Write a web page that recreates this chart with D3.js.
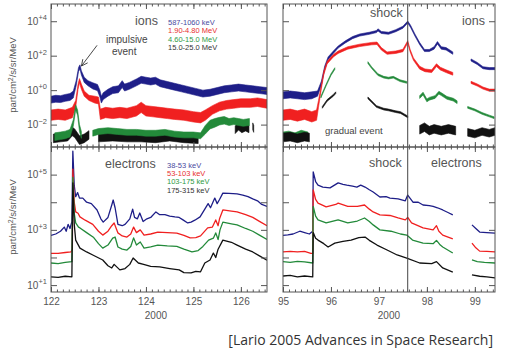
<!DOCTYPE html>
<html><head><meta charset="utf-8">
<script src="https://cdn.jsdelivr.net/npm/d3@7"></script>
<style>
body{margin:0;background:#fff}
svg{display:block}
</style>
</head><body>
<svg id="c" width="508" height="348" font-family="Liberation Sans, Arial, Helvetica, sans-serif"></svg>
<script>
// ---------- tick labels / categories ----------
const leftDayTicks = [122,123,124,125,126];
const rightDayTicks = [95,96,97,98,99];
const ionExpLabels = [4,2,0,-2];
const ionExpTicks = [4,2,0,-2];
const elecExpLabels = [5,3,1];
const elecExpTicks = [5,4,3,2,1];
const ionLegend = ["587-1060 keV","1.90-4.80 MeV","4.60-15.0 MeV","15.0-25.0 MeV"];
const elecLegend = ["38-53 keV","53-103 keV","103-175 keV","175-315 keV"];
const shockDay = 97.6;
const impulsivePeak = [122.62, 1.4];

// ---------- data: [day of 2000, log10 flux, noise half-width in decades] ----------
const ionsL_587 = [[122.00,-0.55,.2],[122.10,-0.50,.2],[122.20,-0.52,.2],[122.30,-0.45,.2],[122.40,-0.40,.2],[122.47,-0.25,.2],[122.53,0.40,.15],[122.58,1.20,.12],[122.61,1.35,.12],[122.64,1.00,.12],[122.70,0.60,.15],[122.78,0.40,.15],[122.88,0.25,.18],[122.98,0.15,.18],[123.03,-0.20,.2],[123.06,-0.55,.2],[123.10,-0.35,.2],[123.20,-0.15,.2],[123.30,0.00,.2],[123.42,0.05,.2],[123.50,0.35,.2],[123.55,0.15,.2],[123.65,0.25,.2],[123.80,0.45,.2],[123.90,0.60,.2],[124.00,0.55,.2],[124.10,0.50,.2],[124.20,0.55,.2],[124.30,0.40,.2],[124.45,0.30,.2],[124.60,0.20,.2],[124.75,0.10,.2],[124.90,0.00,.2],[125.05,-0.10,.2],[125.20,-0.20,.2],[125.35,-0.15,.2],[125.50,-0.05,.2],[125.65,0.05,.2],[125.80,0.10,.2],[125.95,0.15,.2],[126.10,0.10,.2],[126.25,0.05,.2],[126.40,0.00,.2],[126.55,-0.05,.2]];
const ionsL_190 = [[122.00,-1.45,.3],[122.15,-1.40,.3],[122.30,-1.45,.3],[122.45,-1.30,.3],[122.52,-0.80,.2],[122.57,0.20,.15],[122.60,0.55,.12],[122.64,0.20,.15],[122.70,-0.20,.15],[122.80,-0.45,.15],[122.92,-0.55,.2],[123.00,-0.60,.2],[123.04,-1.40,.3],[123.15,-1.30,.3],[123.30,-1.35,.3],[123.45,-1.30,.3],[123.60,-1.35,.3],[123.80,-1.20,.3],[123.90,-1.00,.3],[124.00,-1.20,.3],[124.15,-1.25,.3],[124.30,-1.30,.3],[124.45,-1.35,.3],[124.60,-1.40,.3],[124.80,-1.45,.3],[125.00,-1.55,.3],[125.15,-1.60,.3],[125.25,-1.45,.3],[125.40,-1.15,.25],[125.55,-0.95,.25],[125.70,-0.85,.25],[125.85,-0.80,.25],[126.00,-0.75,.25],[126.20,-0.75,.25],[126.35,-0.70,.25],[126.55,-0.80,.25]];
const ionsL_460 = [[122.08,-2.70,.22],[122.20,-2.65,.22],[122.30,-2.60,.22],[122.40,-2.50,.22],[122.47,-1.90,.18],[122.52,-1.00,.15],[122.56,-1.30,.15],[122.60,-2.20,.2],[122.64,-2.60,.2],null,[122.88,-2.50,.17],[123.00,-2.40,.17],[123.20,-2.35,.17],[123.40,-2.40,.17],[123.60,-2.45,.17],[123.80,-2.45,.17],[124.00,-2.50,.17],[124.20,-2.50,.17],[124.40,-2.45,.17],[124.60,-2.55,.17],[124.80,-2.60,.17],[125.00,-2.60,.17],[125.15,-2.65,.17],[125.25,-2.30,.25],[125.35,-2.00,.25],[125.45,-1.90,.25],[125.55,-1.80,.22],[125.65,-1.75,.22],[125.75,-1.85,.2],[125.85,-1.80,.2],[125.95,-1.85,.2],[126.05,-1.90,.2],[126.18,-1.85,.2]];
const ionsL_150 = [[122.05,-2.80,.25],[122.20,-2.75,.25],[122.35,-2.70,.25],[122.45,-2.40,.25],[122.50,-2.50,.25],[122.60,-2.90,.25],[122.70,-2.80,.25],[122.80,-2.60,.25],null,[123.00,-2.75,.25],[123.30,-2.70,.25],[123.60,-2.75,.25],[123.90,-2.75,.25],[124.20,-2.80,.25],[124.50,-2.70,.25],[124.80,-2.80,.25],[125.10,-2.85,.25],null,[125.88,-2.30,.22],[125.95,-2.10,.22],[126.02,-2.25,.22],[126.10,-2.15,.22],[126.17,-2.25,.22],null,[126.25,-2.10,.2],[126.27,-2.25,.2]];

const ionsR_587 = [[95.00,-0.30,.2],[95.15,-0.25,.2],[95.30,-0.30,.2],[95.45,-0.35,.2],[95.60,-0.30,.2],[95.72,-0.20,.15],[95.80,0.40,.12],[95.87,1.30,.1],[95.94,1.85,.08],[96.05,2.20,.07],[96.15,2.50,.06],[96.30,2.80,.06],[96.45,3.05,.06],[96.60,3.20,.06],[96.80,3.30,.06],[96.95,3.40,.06],[96.98,3.50,.06],[97.05,3.35,.06],[97.20,3.30,.06],[97.35,3.45,.06],[97.50,3.65,.06],[97.60,3.95,.06],[97.66,3.70,.06],[97.75,3.20,.06],[97.85,2.70,.06],[97.95,2.30,.06],[98.05,2.30,.06],[98.15,2.45,.07],[98.22,2.75,.07],[98.30,2.45,.07],[98.40,2.40,.07],[98.54,2.15,.07],null,[98.92,1.75,.06],[99.05,1.55,.06],[99.17,1.30,.06],[99.30,1.25,.06],[99.42,1.25,.06]];
const ionsR_190 = [[95.00,-1.45,.3],[95.15,-1.40,.3],[95.30,-1.50,.3],[95.45,-1.40,.3],[95.60,-1.55,.3],[95.70,-1.45,.3],[95.74,-0.80,.2],[95.80,0.20,.12],[95.85,1.00,.1],[95.92,1.60,.08],[96.05,2.00,.07],[96.15,2.20,.07],[96.35,2.45,.07],[96.60,2.60,.07],[96.85,2.70,.07],[96.96,2.72,.07],[97.05,2.40,.07],[97.17,2.15,.07],[97.35,2.20,.07],[97.50,2.30,.07],[97.60,2.80,.07],[97.65,2.30,.07],[97.72,1.80,.07],[97.85,1.30,.08],[97.96,1.15,.08],[98.10,1.10,.08],[98.20,1.45,.08],[98.28,1.25,.08],[98.40,1.10,.08],[98.54,0.95,.08],null,[98.92,0.45,.06],[99.05,0.30,.06],[99.17,0.12,.06],[99.30,0.00,.06],[99.42,0.00,.06]];
const ionsR_460 = [[95.00,-2.65,.22],[95.12,-2.60,.22],[95.25,-2.70,.22],[95.38,-2.55,.22],[95.52,-2.65,.22],null,[95.79,-0.40,.05],[95.90,0.30,.05],[96.00,0.90,.05],[96.08,1.25,.05],null,[96.77,1.60,.05],[96.85,1.30,.05],[96.98,0.90,.05],[97.10,0.75,.05],[97.20,0.70,.05],[97.30,0.75,.05],[97.44,0.55,.05],[97.58,0.45,.05],null,[97.85,-0.40,.08],[97.92,-0.20,.08],[98.00,-0.60,.08],[98.05,-0.50,.08],[98.17,-0.40,.08],[98.25,-0.15,.08],[98.31,-0.25,.08],[98.42,-0.45,.08],[98.55,-0.55,.08],[98.63,-0.70,.08],null,[98.85,-1.00,.05],[99.00,-1.15,.05],[99.15,-1.35,.05],[99.30,-1.50,.05],[99.40,-1.60,.05]];
const ionsR_150 = [[95.00,-2.75,.25],[95.15,-2.70,.25],[95.30,-2.80,.25],[95.45,-2.70,.25],[95.55,-2.75,.25],null,[95.82,-1.00,.05],[95.92,-0.60,.05],[96.05,-0.30,.05],[96.10,-0.15,.05],null,[96.77,-0.45,.05],[96.95,-0.95,.05],[97.10,-1.10,.05],[97.20,-1.15,.05],[97.35,-1.25,.05],[97.45,-1.30,.05],[97.60,-1.55,.05],null,[97.85,-2.30,.25],[97.95,-2.15,.25],[98.05,-2.35,.25],[98.15,-2.25,.25],[98.30,-2.35,.25],[98.45,-2.25,.25],[98.60,-2.35,.25],null,[98.85,-2.45,.22],[99.00,-2.55,.22],[99.15,-2.40,.22],[99.30,-2.50,.22],[99.42,-2.40,.22]];

// electrons: [day of 2000, log10 flux]
const elecL_38 = [[122.00,2.80],[122.10,2.85],[122.20,2.95],[122.28,3.10],[122.32,2.95],[122.36,3.20],[122.40,3.05],[122.44,3.30],[122.46,5.85],[122.49,4.60],[122.52,4.20],[122.56,4.35],[122.60,4.15],[122.67,4.15],[122.75,4.00],[122.85,3.95],[122.97,3.72],[123.05,3.40],[123.10,3.28],[123.20,3.45],[123.28,3.90],[123.31,4.08],[123.35,3.80],[123.41,3.20],[123.50,3.15],[123.56,3.20],[123.66,3.40],[123.72,3.75],[123.76,3.45],[123.82,3.40],[123.87,3.61],[123.94,3.30],[124.02,3.40],[124.10,3.45],[124.21,3.65],[124.29,3.55],[124.40,3.55],[124.50,3.50],[124.61,3.47],[124.70,3.45],[124.78,3.36],[124.88,3.25],[124.95,3.28],[125.03,3.35],[125.14,3.47],[125.24,3.75],[125.31,3.95],[125.36,3.80],[125.45,4.15],[125.50,3.95],[125.55,4.10],[125.62,4.33],[125.75,4.32],[125.92,4.30],[126.04,4.26],[126.15,4.20],[126.25,4.12],[126.35,4.05],[126.44,3.92],[126.55,3.85]];
const elecL_53 = [[122.00,2.15],[122.15,2.15],[122.30,2.18],[122.42,2.20],[122.45,2.30],[122.46,5.20],[122.49,4.00],[122.52,3.65],[122.57,3.60],[122.61,3.47],[122.72,3.35],[122.88,3.20],[123.00,2.95],[123.09,2.81],[123.20,2.95],[123.28,3.15],[123.33,3.25],[123.41,2.89],[123.50,2.78],[123.60,2.74],[123.68,2.85],[123.74,3.10],[123.80,2.90],[123.88,3.00],[123.96,2.81],[124.10,2.85],[124.25,2.92],[124.45,2.90],[124.65,2.88],[124.80,2.80],[124.93,2.71],[125.05,2.72],[125.15,2.78],[125.30,3.07],[125.40,3.10],[125.47,3.36],[125.52,3.15],[125.55,3.40],[125.62,3.72],[125.80,3.68],[125.92,3.65],[126.10,3.55],[126.25,3.45],[126.40,3.30],[126.55,3.15]];
const elecL_103 = [[122.00,1.80],[122.15,1.78],[122.30,1.82],[122.44,1.85],[122.46,4.90],[122.49,3.60],[122.52,3.25],[122.58,3.10],[122.61,3.07],[122.75,2.90],[122.90,2.72],[123.00,2.50],[123.09,2.34],[123.20,2.45],[123.30,2.70],[123.35,2.74],[123.41,2.38],[123.50,2.30],[123.60,2.27],[123.68,2.40],[123.74,2.71],[123.80,2.45],[123.88,2.56],[123.96,2.34],[124.10,2.38],[124.25,2.45],[124.45,2.42],[124.65,2.40],[124.80,2.30],[124.97,2.20],[125.10,2.25],[125.20,2.40],[125.32,2.63],[125.42,2.70],[125.47,2.89],[125.52,2.65],[125.56,3.00],[125.62,3.28],[125.80,3.22],[125.92,3.18],[126.10,3.05],[126.25,2.95],[126.40,2.80],[126.55,2.65]];
const elecL_175 = [[122.00,1.30],[122.15,1.28],[122.30,1.32],[122.44,1.30],[122.46,4.70],[122.49,3.20],[122.52,2.63],[122.61,2.34],[122.75,2.20],[122.88,2.09],[123.09,1.91],[123.20,1.70],[123.28,1.62],[123.33,1.75],[123.45,1.55],[123.56,1.60],[123.66,1.75],[123.73,1.98],[123.84,1.80],[123.95,1.75],[124.10,1.68],[124.29,1.66],[124.50,1.60],[124.70,1.55],[124.80,1.45],[124.95,1.44],[125.05,1.50],[125.15,1.48],[125.24,1.80],[125.35,1.91],[125.42,2.16],[125.47,2.00],[125.52,2.30],[125.62,2.63],[125.80,2.55],[125.92,2.45],[126.10,2.30],[126.25,2.20],[126.40,2.05],[126.55,1.90]];

const elecR_38 = [[95.00,2.80],[95.10,2.82],[95.21,2.85],[95.35,2.95],[95.45,2.90],[95.55,2.85],[95.62,2.95],[95.63,5.10],[95.68,4.75],[95.73,4.62],[95.83,4.55],[95.98,4.52],[96.15,4.70],[96.25,4.65],[96.33,4.62],[96.45,4.58],[96.54,4.55],[96.62,4.62],[96.71,4.55],[96.80,4.45],[96.88,4.37],[97.02,4.19],[97.15,4.20],[97.23,4.15],[97.40,4.12],[97.55,4.05],[97.60,4.26],[97.71,4.00],[97.82,4.00],[97.92,3.90],[98.05,3.88],[98.13,3.85],[98.22,3.80],[98.33,3.72],[98.45,3.62],[98.54,3.54],null,[98.94,3.18],[99.02,3.05],[99.10,2.92],[99.25,2.90],[99.42,2.88]];
const elecR_53 = [[95.00,2.20],[95.15,2.22],[95.30,2.20],[95.45,2.22],[95.58,2.15],[95.62,2.15],[95.63,4.45],[95.68,4.10],[95.73,3.97],[95.90,3.83],[96.10,3.92],[96.15,3.97],[96.35,3.85],[96.55,3.85],[96.70,3.90],[96.80,3.75],[96.88,3.65],[97.02,3.54],[97.23,3.52],[97.40,3.43],[97.55,3.36],[97.60,3.45],[97.68,3.25],[97.92,3.07],[98.13,3.00],[98.20,3.15],[98.25,2.95],[98.33,2.81],[98.54,2.67],null,[98.94,2.52],[99.02,2.35],[99.10,2.23],[99.25,2.22],[99.42,2.20]];
const elecR_103 = [[95.00,1.85],[95.15,1.82],[95.30,1.86],[95.45,1.84],[95.62,1.80],[95.63,3.85],[95.68,3.50],[95.73,3.36],[95.90,3.25],[96.15,3.36],[96.35,3.25],[96.55,3.32],[96.70,3.43],[96.80,3.30],[96.88,3.18],[97.02,3.00],[97.25,2.95],[97.45,2.85],[97.58,2.81],[97.70,2.63],[97.92,2.52],[98.13,2.50],[98.20,2.62],[98.28,2.45],[98.33,2.38],[98.54,2.16],null,[98.94,1.91],[99.05,1.85],[99.20,1.82],[99.42,1.80]];
const elecR_175 = [[95.00,1.33],[95.15,1.35],[95.30,1.30],[95.45,1.33],[95.62,1.30],[95.63,2.90],[95.68,2.70],[95.73,2.63],[95.85,2.50],[95.94,2.38],[96.08,2.52],[96.25,2.58],[96.42,2.63],[96.58,2.72],[96.71,2.74],[96.80,2.62],[96.96,2.45],[97.17,2.27],[97.38,2.09],[97.58,1.98],[97.85,1.80],[98.10,1.78],[98.20,1.85],[98.33,1.62],[98.54,1.47],null,[98.94,1.37],[99.10,1.32],[99.25,1.30],[99.42,1.26]];

// ---------- styling ----------
const seriesColors = ["#1e1e88","#f02020","#238a3a","#111111"];
const legendColors = ["#4a4aa0","#e83030","#2f9a45","#333333"];

// ---------- scales ----------
const xL = d3.scaleLinear().domain([122,126.55]).range([51,267]);
const xR = d3.scaleLinear().domain([95,99.42]).range([283,495]);
const yI = d3.scaleLog().domain([Math.pow(10,-3.3),1e5]).range([147,4]);
const yE = d3.scaleLog().domain([Math.pow(10,0.75),1e6]).range([292,147]);

const svg = d3.select("#c");
const frameColor = "#555";

function segs(arr){const out=[];let cur=[];arr.forEach(p=>{if(p===null){if(cur.length)out.push(cur);cur=[];}else cur.push(p);});if(cur.length)out.push(cur);return out;}

const panels = [
  {id:"tl", x:xL, y:yI, ion:true, series:[ionsL_587,ionsL_190,ionsL_150,ionsL_460], colorIdx:[0,1,3,2]},
  {id:"tr", x:xR, y:yI, ion:true, series:[ionsR_587,ionsR_190,ionsR_460,ionsR_150], colorIdx:[0,1,2,3]},
  {id:"bl", x:xL, y:yE, ion:false, series:[elecL_38,elecL_53,elecL_103,elecL_175], colorIdx:[0,1,2,3]},
  {id:"br", x:xR, y:yE, ion:false, series:[elecR_38,elecR_53,elecR_103,elecR_175], colorIdx:[0,1,2,3]}
];

const defs = svg.append("defs");
panels.forEach(p=>{
  const [x0,x1]=p.x.range(), [y1,y0]=p.y.range();
  defs.append("clipPath").attr("id","clip-"+p.id).append("rect")
    .attr("x",x0).attr("y",y0).attr("width",x1-x0).attr("height",y1-y0);
  const g = svg.append("g").attr("clip-path","url(#clip-"+p.id+")");
  p.series.forEach((data,i)=>{
    const col = seriesColors[p.colorIdx[i]];
    segs(data).forEach(s=>{
      if(p.ion){
        const area = d3.area().x(d=>p.x(d[0]))
          .y0(d=>p.y(Math.pow(10,d[1]-d[2]))).y1(d=>p.y(Math.pow(10,d[1]+d[2])));
        g.append("path").attr("d",area(s)).attr("fill",col).attr("stroke",col).attr("stroke-width",0.6);
      } else {
        const line = d3.line().x(d=>p.x(d[0])).y(d=>p.y(Math.pow(10,d[1])));
        g.append("path").attr("d",line(s)).attr("fill","none").attr("stroke",col)
          .attr("stroke-width",1.3).attr("stroke-linejoin","round");
      }
    });
  });
});

// shock line across both right panels
svg.append("line").attr("x1",xR(shockDay)).attr("x2",xR(shockDay))
  .attr("y1",yI.range()[1]).attr("y2",yE.range()[0]).attr("stroke","#444").attr("stroke-width",1);

// ---------- frames and ticks ----------
function minorDays(dom){const out=[];for(let d=Math.ceil(dom[0]*8)/8; d<=dom[1]+1e-9; d+=0.125){out.push(+d.toFixed(3));}return out;}
panels.forEach(p=>{
  const [x0,x1]=p.x.range(), [y1,y0]=p.y.range();
  const g = svg.append("g");
  const majors = p.x===xL?leftDayTicks:rightDayTicks;
  const minors = minorDays(p.x.domain());
  [["bottom",y1],["top",y0]].forEach(([side,yy])=>{
    const ax = (side==="bottom"?d3.axisBottom(p.x):d3.axisTop(p.x));
    g.append("g").attr("transform",`translate(0,${yy})`)
      .call(ax.tickValues(minors).tickSize(-2.5).tickFormat(""))
      .call(a=>a.select(".domain").remove())
      .call(a=>a.selectAll("line").attr("stroke",frameColor));
    const ax2 = (side==="bottom"?d3.axisBottom(p.x):d3.axisTop(p.x));
    g.append("g").attr("transform",`translate(0,${yy})`)
      .call(ax2.tickValues(majors).tickSize(-5).tickFormat(""))
      .call(a=>a.select(".domain").remove())
      .call(a=>a.selectAll("line").attr("stroke",frameColor));
  });
  const yt = p.ion?ionExpTicks:elecExpTicks;
  const yv = yt.map(e=>Math.pow(10,e));
  g.append("g").attr("transform",`translate(${x0},0)`)
    .call(d3.axisLeft(p.y).tickValues(yv).tickSize(-6).tickFormat(""))
    .call(a=>a.select(".domain").remove()).call(a=>a.selectAll("line").attr("stroke",frameColor));
  g.append("g").attr("transform",`translate(${x1},0)`)
    .call(d3.axisRight(p.y).tickValues(yv).tickSize(-6).tickFormat(""))
    .call(a=>a.select(".domain").remove()).call(a=>a.selectAll("line").attr("stroke",frameColor));
  g.append("rect").attr("x",x0).attr("y",y0).attr("width",x1-x0).attr("height",y1-y0)
    .attr("fill","none").attr("stroke",frameColor).attr("stroke-width",1);
});

// y tick labels (10^n)
function yLabels(scale, exps){
  exps.forEach(e=>{
    const t = svg.append("text").attr("x",47).attr("y",scale(Math.pow(10,e))+3.5)
      .attr("text-anchor","end").attr("fill","#555").attr("font-size",10);
    t.append("tspan").text("10");
    t.append("tspan").attr("dy",-4.5).attr("font-size",7.5).text(e<0?"−"+(-e):"+"+e);
  });
}
yLabels(yI, ionExpLabels);
yLabels(yE, elecExpLabels);

// x tick labels
[[xL,leftDayTicks],[xR,rightDayTicks]].forEach(([sc,ticks])=>{
  svg.append("g").attr("transform",`translate(0,292)`)
    .call(d3.axisBottom(sc).tickValues(ticks).tickSize(0).tickPadding(6).tickFormat(d3.format("d")))
    .call(a=>a.select(".domain").remove())
    .call(a=>a.selectAll("text").attr("fill","#555").attr("font-size",10).attr("font-family",null));
  svg.append("text").attr("x",(sc(ticks[0])+sc(ticks[ticks.length-1]))/2+10).attr("y",319)
    .attr("text-anchor","middle").attr("fill","#555").attr("font-size",10).text("2000");
});

// y axis titles
[[yI,75],[yE,217]].forEach(([sc,cy])=>{
  const t = svg.append("text").attr("transform",`translate(16,${cy}) rotate(-90)`)
    .attr("text-anchor","middle").attr("fill","#555").attr("font-size",9.5);
  t.append("tspan").text("part/cm");
  t.append("tspan").attr("dy",-3.5).attr("font-size",7).text("2");
  t.append("tspan").attr("dy",3.5).text("/s/sr/MeV");
});

// panel labels
function lbl(x,y,txt,size,col){svg.append("text").attr("x",x).attr("y",y).attr("font-size",size).attr("fill",col||"#555").text(txt);}
lbl(135,25,"ions",12.5);
lbl(370,17,"shock",12.5);
lbl(462,25,"ions",12.5);
lbl(105,168,"electrons",12.5);
lbl(369,167,"shock",12.5);
lbl(431,167,"electrons",12.5);
lbl(325,134,"gradual event",9.5,"#444");
lbl(106,43,"impulsive",10,"#444");
lbl(112,55,"event",10,"#444");

// legends
ionLegend.forEach((t,i)=>lbl(168,25+i*8.3,t,7.5,legendColors[i]));
elecLegend.forEach((t,i)=>lbl(167,168+i*8.2,t,7.5,legendColors[i]));

// impulsive event arrow
const tipX = xL(impulsivePeak[0])+1, tipY = yI(Math.pow(10,impulsivePeak[1]));
const tailX = xL(122.97), tailY = yI(Math.pow(10,2.6));
svg.append("line").attr("x1",tailX).attr("y1",tailY).attr("x2",tipX).attr("y2",tipY).attr("stroke","#333").attr("stroke-width",0.9);
const ang = Math.atan2(tailY-tipY, tailX-tipX);
[0.45,-0.45].forEach(da=>{
  svg.append("line").attr("x1",tipX).attr("y1",tipY)
    .attr("x2",tipX+7*Math.cos(ang+da)).attr("y2",tipY+7*Math.sin(ang+da))
    .attr("stroke","#333").attr("stroke-width",0.9);
});

// caption
svg.append("text").attr("x",493).attr("y",345).attr("text-anchor","end")
  .style("font-family","'Open Sans', 'Noto Sans', sans-serif").attr("font-size",14).attr("fill","#333")
  .text("[Lario 2005 Advances in Space Research]");
</script>
</body></html>
